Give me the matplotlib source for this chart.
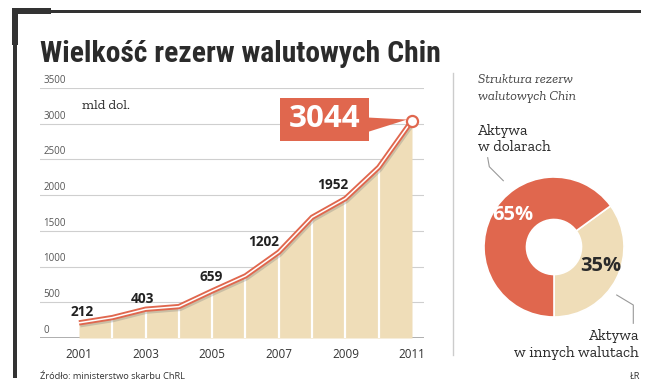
import matplotlib
matplotlib.use('Agg')
import matplotlib.pyplot as plt
from matplotlib.patches import Rectangle, Polygon
from matplotlib.lines import Line2D
import matplotlib.patheffects as pe

# ---------------- data ----------------
years = [2001, 2002, 2003, 2004, 2005, 2006, 2007, 2008, 2009, 2010, 2011]
reserves = [212, 286, 403, 440, 659, 870, 1202, 1690, 1952, 2390, 3044]
labeled_years = [2001, 2003, 2005, 2007, 2009]
labeled_values = [212, 403, 659, 1202, 1952]
latest_year = 2011
latest_value = 3044
y_ticks = [0, 500, 1000, 1500, 2000, 2500, 3000, 3500]
x_ticks = [2001, 2003, 2005, 2007, 2009, 2011]
pie_values = [35, 65]          # other currencies, dollars
pie_texts = ['35%', '65%']

# ---------------- style ----------------
RED = '#E0674E'
BEIGE = '#EFDDB8'
DARK = '#2b2b2b'
SANS = ['Open Sans', 'DejaVu Sans']
SERIF = ['Zilla Slab', 'DejaVu Serif']
TITLE_FONT = ['Roboto Condensed', 'Roboto', 'DejaVu Sans']

W, H = 650, 389
fig = plt.figure(figsize=(W / 100, H / 100), dpi=100)
fig.patch.set_facecolor('white')


def fx(x):
    return x / W


def fy(y):
    return 1 - y / H


def rect_px(x0, y0, x1, y1, color):
    fig.add_artist(Rectangle((fx(x0), fy(y1)), (x1 - x0) / W, (y1 - y0) / H,
                             transform=fig.transFigure, color=color, lw=0))


def line_px(xs, ys, color='#9a9a9a', lw=0.8):
    fig.add_artist(Line2D([fx(x) for x in xs], [fy(y) for y in ys],
                          transform=fig.transFigure, color=color, lw=lw))


# frame decoration
FR = '#333333'
rect_px(12, 9.5, 641, 12.5, FR)
rect_px(12, 8, 51, 14, FR)
rect_px(12, 8, 18, 45, FR)
rect_px(12.7, 45, 17.3, 378, FR)

# title
fig.text(fx(40), fy(62), 'Wielkość rezerw walutowych Chin', family=TITLE_FONT,
         fontsize=21.3, weight='bold', color=DARK, va='baseline', ha='left')

# ---------------- line/area chart ----------------
ax = fig.add_axes([fx(40), fy(338), 384 / W, 250 / H])
x_left = 2001 - 39 / 33.3
x_right = 2011 + 12 / 33.3
ax.set_xlim(x_left, x_right)
ax.set_ylim(0, 3500)
for s in ax.spines.values():
    s.set_visible(False)
ax.set_yticks([])

for v in y_ticks:
    ax.axhline(v, color='#999999' if v == 0 else '#cfcfcf',
               lw=1.1 if v == 0 else 0.8, zorder=0)
    ax.annotate(str(v), xy=(0, v), xycoords=('axes fraction', 'data'),
                xytext=(2.5, 1.5), textcoords='offset points', ha='left',
                va='bottom', fontsize=7, color='#555555', family=SANS)

ax.fill_between(years, reserves, 0, color=BEIGE, lw=0, zorder=1)
ax.vlines(years[1:-1], 0, reserves[1:-1], color='white', lw=1.6, zorder=2)

ax.plot(years, reserves, color=RED, lw=3.8, zorder=3,
        solid_joinstyle='round', solid_capstyle='butt',
        path_effects=[pe.SimpleLineShadow(offset=(0.8, -1.4),
                                          shadow_color='#777777', alpha=0.3),
                      pe.Normal()])
ax.plot(years, reserves, color='white', lw=1.1, zorder=4,
        solid_joinstyle='round', solid_capstyle='butt')
ax.plot([latest_year], [latest_value], 'o', ms=8, mfc='white', mec=RED,
        mew=1.6, zorder=6)

ax.set_xticks(x_ticks)
ax.set_xticklabels([str(x) for x in x_ticks], fontsize=8.4, color='#333333',
                   family=SANS)
ax.tick_params(axis='x', length=0, pad=7)

# data labels
offsets = [(3, 11), (-3, 10), (-1, 14), (-15, 10), (-13, 14)]
for yr, val, (dx, dy) in zip(labeled_years, labeled_values, offsets):
    ax.annotate(str(val), xy=(yr, val), xytext=(dx * 0.72, dy * 0.72),
                textcoords='offset points', ha='center', va='center',
                fontsize=9.8, weight='bold', color='#222222', family=SANS,
                zorder=7)

# callout box for latest value
fig.canvas.draw()
px, py = ax.transData.transform((latest_year, latest_value))
box_l, box_r = px - 132, px - 43
box_b, box_t = py - 20, py + 23
fig.add_artist(Rectangle((box_l / W, box_b / H), (box_r - box_l) / W,
                         (box_t - box_b) / H, transform=fig.transFigure,
                         color=RED, lw=0))
fig.add_artist(Polygon([(box_r / W, (py + 3) / H), (box_r / W, (py - 11) / H),
                        ((px - 5) / W, (py + 1) / H)], closed=True,
                       transform=fig.transFigure, color=RED, lw=0))
fig.text((box_l + box_r) / 2 / W, (py + 1.5) / H, str(latest_value),
         ha='center', va='center', fontsize=22.5, weight='bold', color='white',
         family=SANS)

fig.text(fx(82), fy(109), 'mld dol.', family=SERIF, fontsize=10,
         color=DARK, va='baseline', ha='left')

# source
fig.text(fx(40), fy(379), 'Źródło: ministerstwo skarbu ChRL', family=SANS,
         fontsize=6.7, color='#333333', va='baseline', ha='left')
fig.text(fx(640), fy(379), 'ŁR', family=SANS, fontsize=6.7,
         color='#333333', va='baseline', ha='right')

# separator
line_px([452.7, 452.7], [73, 355], color='#cccccc', lw=1.0)

# ---------------- donut ----------------
cx, cy, r = 554, 247, 70
pax = fig.add_axes([fx(cx - r), fy(cy + r), 2 * r / W, 2 * r / H])
pax.pie(pie_values, colors=[BEIGE, RED], startangle=-90, counterclock=True,
        radius=1, wedgeprops=dict(width=1 - 27.5 / 70, edgecolor='white',
                                  linewidth=1.2))
pax.set_xlim(-1, 1)
pax.set_ylim(-1, 1)
pax.set_aspect('equal')
pax.axis('off')

fig.text(fx(513), fy(215), pie_texts[1], ha='center', va='center',
         fontsize=14.5, weight='bold', color='white', family=SANS)
fig.text(fx(601), fy(266), pie_texts[0], ha='center', va='center',
         fontsize=14.5, weight='bold', color='#2a2a2a', family=SANS)

fig.text(fx(478), fy(82.7), 'Struktura rezerw', family=SERIF, style='italic',
         fontsize=10, color='#444444', va='baseline', ha='left')
fig.text(fx(478), fy(100), 'walutowych Chin', family=SERIF, style='italic',
         fontsize=10, color='#444444', va='baseline', ha='left')

fig.text(fx(478), fy(135), 'Aktywa', family=SERIF, fontsize=11,
         color=DARK, va='baseline', ha='left')
fig.text(fx(478), fy(151), 'w dolarach', family=SERIF, fontsize=11,
         color=DARK, va='baseline', ha='left')
fig.text(fx(639), fy(340), 'Aktywa', family=SERIF, fontsize=11,
         color=DARK, va='baseline', ha='right')
fig.text(fx(639), fy(356.5), 'w innych walutach', family=SERIF, fontsize=11,
         color=DARK, va='baseline', ha='right')

line_px([487.7, 489.3, 503.3], [157.7, 166.7, 180.7], color='#999999', lw=0.8)
line_px([616.7, 633.3, 633.3], [295, 305, 323.3], color='#999999', lw=0.8)

fig.savefig('out.png', dpi=100, facecolor='white')
